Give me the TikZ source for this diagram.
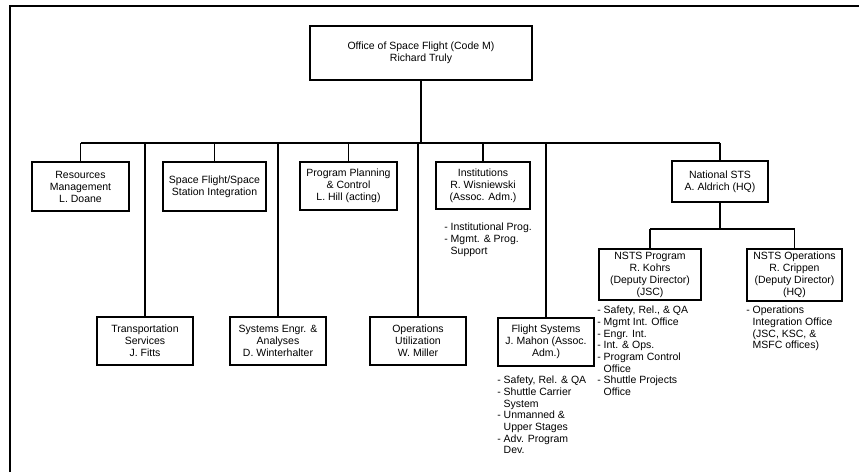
\documentclass[tikz,border=0pt]{standalone}
\usepackage{fontspec}
\setmainfont{Liberation Sans}
\usetikzlibrary{positioning}
\tikzstyle{office}=[draw, line width=1.8pt, align=center, inner sep=0pt,
  font=\fontsize{10.5}{12}\selectfont]
\tikzstyle{link}=[line width=1.5pt]
\tikzstyle{duties}=[align=left, inner sep=0pt, anchor=north west,
  font=\fontsize{10.5}{11.7}\selectfont]
\newcommand{\ind}{\hphantom{- }}

\begin{document}
\begin{tikzpicture}[x=1pt, y=-1pt]
  \useasboundingbox (0,0) rectangle (859,472);
  % frame
  \draw[line width=1.6pt] (10,472) -- (10,6) -- (859,6);

  \node[office, minimum width=222, minimum height=54] (osf) at (421,53)
    {Office of Space Flight (Code M)\\Richard Truly};

  % first row
  \node[office, minimum width=97, minimum height=49] (res) at (80.5,186.5)
    {Resources\\Management\\L. Doane};
  \node[office, minimum width=103, minimum height=49] (sfss) at (214.5,186.5)
    {Space Flight/Space\\Station Integration};
  \node[office, minimum width=97, minimum height=48] (ppc) at (348.5,186)
    {Program Planning\\\& Control\\L. Hill (acting)};
  \node[office, minimum width=94, minimum height=47] (inst) at (483,185.5)
    {Institutions\\R. Wisniewski\\(Assoc. Adm.)};
  \node[office, minimum width=96, minimum height=41] (nsts) at (720,181.5)
    {National STS\\A. Aldrich (HQ)};

  % second row
  \node[office, minimum width=96, minimum height=48] (trans) at (145,341)
    {Transportation\\Services\\J. Fitts};
  \node[office, minimum width=96, minimum height=48] (sea) at (278,341)
    {Systems Engr. \&\\Analyses\\D. Winterhalter};
  \node[office, minimum width=96, minimum height=48] (opu) at (418,341)
    {Operations\\Utilization\\W. Miller};
  \node[office, minimum width=96, minimum height=48] (flt) at (546,342)
    {Flight Systems\\J. Mahon (Assoc.\\Adm.)};

  % under National STS
  \node[office, minimum width=102, minimum height=51] (nprog) at (650,274.5)
    {NSTS Program\\R. Kohrs\\(Deputy Director)\\(JSC)};
  \node[office, minimum width=95, minimum height=52] (nops) at (794.5,275)
    {NSTS Operations\\R. Crippen\\(Deputy Director)\\(HQ)};

  % duties
  \node[duties, below right=13pt and 9pt of inst.south west] (instlist)
    {- Institutional Prog.\\- Mgmt. \& Prog.\\\ind Support};
  \node[duties, below right=9pt and 0pt of flt.south west] (fltlist)
    {- Safety, Rel. \& QA\\- Shuttle Carrier\\\ind System\\- Unmanned \&\\\ind Upper Stages\\- Adv. Program\\\ind Dev.};
  \node[duties, below right=5pt and -1pt of nprog.south west] (nproglist)
    {- Safety, Rel., \& QA\\- Mgmt Int. Office\\- Engr. Int.\\- Int. \& Ops.\\- Program Control\\\ind Office\\- Shuttle Projects\\\ind Office};
  \node[duties, below right=4pt and 0pt of nops.south west] (nopslist)
    {- Operations\\\ind Integration Office\\\ind (JSC, KSC, \&\\\ind MSFC offices)};

  % connectors
  \coordinate (bus) at (0,143);
  \coordinate (subbus) at (0,229);
  \draw[link] (osf.south) -- (osf.south |- bus);
  \draw[link] (res.north |- bus) -- (nsts.north |- bus);
  \foreach \n in {res,sfss,ppc,inst,nsts,trans,sea,opu,flt}
    \draw[link] (\n.north) -- (\n.north |- bus);
  \draw[link] (nsts.south) -- (nsts.south |- subbus);
  \draw[link] (nprog.north |- subbus) -- (nops.north |- subbus);
  \foreach \n in {nprog,nops}
    \draw[link] (\n.north) -- (\n.north |- subbus);
\end{tikzpicture}
\end{document}
